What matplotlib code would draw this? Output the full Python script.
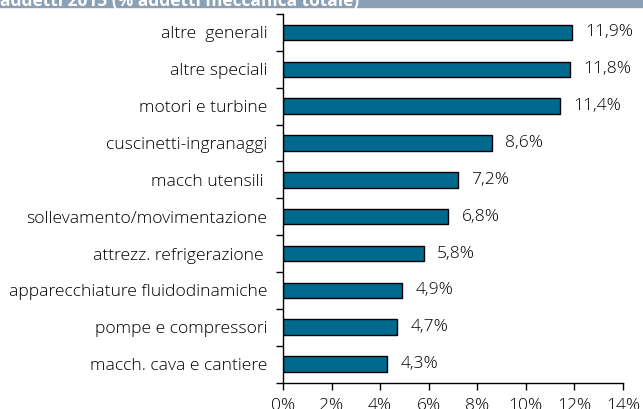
import matplotlib.pyplot as plt
from matplotlib.patches import Rectangle

categorie = ["altre  generali", "altre speciali", "motori e turbine", "cuscinetti-ingranaggi",
             "macch utensili ", "sollevamento/movimentazione", "attrezz. refrigerazione ",
             "apparecchiature fluidodinamiche", "pompe e compressori", "macch. cava e cantiere"]
valori = [11.9, 11.8, 11.4, 8.6, 7.2, 6.8, 5.8, 4.9, 4.7, 4.3]
xticks = [0, 2, 4, 6, 8, 10, 12, 14]

plt.rcParams['font.family'] = ['Open Sans', 'DejaVu Sans']
FS = 12.6

fig = plt.figure(figsize=(6.43, 4.09), dpi=100)
W, H = 643, 409
ax = fig.add_axes([283 / W, 1 - 382.5 / H, 340 / W, (382.5 - 14) / H])

y = list(range(len(categorie)))[::-1]
ax.barh(y, valori, height=0.42, color="#006A8E", edgecolor="black", linewidth=1)
for yi, v in zip(y, valori):
    ax.text(v + 0.55, yi, f"{v:.1f}%".replace(".", ","), va="center", ha="left",
            fontsize=FS, fontweight="light")

ax.set_xlim(0, 14)
ax.set_ylim(-0.5, len(categorie) - 0.5)
ax.set_xticks(xticks)
ax.set_xticklabels([f"{t}%" for t in xticks], fontsize=FS, fontweight="light")
ax.set_yticks(y)
ax.set_yticklabels(categorie, fontsize=FS, fontweight="light")
ax.set_yticks([i - 0.5 for i in range(len(categorie) + 1)], minor=True)
ax.tick_params(axis="y", which="major", length=0, pad=11)
ax.tick_params(axis="y", which="minor", length=5, width=1, direction="out")
ax.tick_params(axis="x", length=5, width=1, pad=6)
for s in ["top", "right"]:
    ax.spines[s].set_visible(False)
ax.spines["left"].set_linewidth(1)
ax.spines["bottom"].set_linewidth(1)

# banner del titolo, tagliato in alto
fig.patches.append(Rectangle((0, 1 - 7 / H), 1, 7 / H, transform=fig.transFigure,
                             color="#8AA0B5", zorder=0))
fig.text(0.0, 1 - 1 / H, "addetti 2015 (% addetti meccanica totale)", color="white",
         fontweight="bold", fontsize=12.5, va="center", ha="left")

fig.savefig("out.png", dpi=100)
